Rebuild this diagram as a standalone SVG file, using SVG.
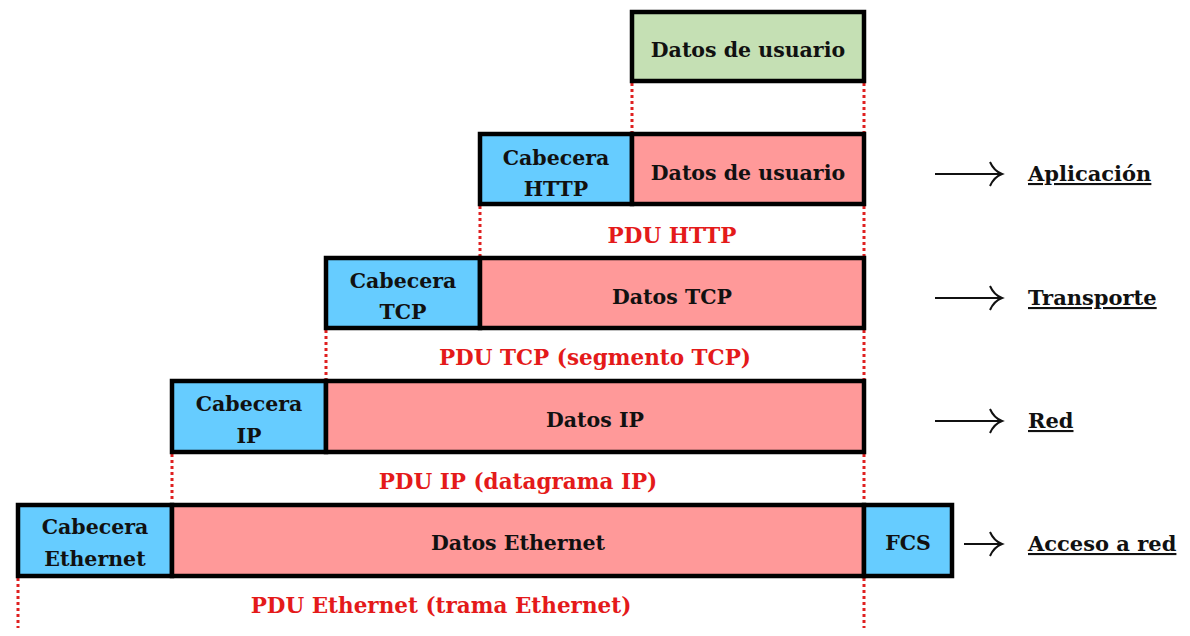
<svg xmlns="http://www.w3.org/2000/svg" width="1190" height="636" viewBox="0 0 1190 636">
<style>
.box{stroke:#000;stroke-width:4.5}
.g{fill:#C5E0B4}.b{fill:#66CCFF}.p{fill:#FF9999}
text{font-family:"DejaVu Serif","Liberation Serif",serif;font-weight:bold;font-size:20.5px;fill:#111;text-anchor:middle}
.pdu{fill:#E41A1A;font-size:21.5px}
.lay{text-anchor:start;text-decoration:underline;font-size:21px}
.dot{stroke:#E02020;stroke-width:3;stroke-dasharray:3 3;fill:none}
.arr{stroke:#111;stroke-width:2;fill:none}
</style>
<rect width="1190" height="636" fill="#fff"/>
<g id="connectors">
<path class="dot" d="M632 83V132M864 83V132M480 206V256M864 206V256M326 330V379M864 330V379M172 454V502M864 454V502M18 578V628M864 578V628"/>
<path class="arr" d="M935 174H1001M990 162Q994 171 1002 174Q994 177 990 186"/>
<path class="arr" d="M935 298H1001M990 286Q994 295 1002 298Q994 301 990 310"/>
<path class="arr" d="M935 421H1001M990 409Q994 418 1002 421Q994 424 990 433"/>
<path class="arr" d="M964 544H1001M990 532Q994 541 1002 544Q994 547 990 556"/>
</g>
<g id="user">
<rect class="box g" x="632" y="12" width="232" height="69"/>
<text x="748" y="57">Datos de usuario</text>
</g>
<g id="http">
<rect class="box b" x="480" y="134" width="152" height="70"/>
<rect class="box p" x="632" y="134" width="232" height="70"/>
<text x="556" y="165">Cabecera</text><text x="556" y="196">HTTP</text>
<text x="748" y="180">Datos de usuario</text>
</g>
<text class="pdu" x="672" y="243">PDU HTTP</text>
<g id="tcp">
<rect class="box b" x="326" y="258" width="154" height="70"/>
<rect class="box p" x="480" y="258" width="384" height="70"/>
<text x="403" y="288">Cabecera</text><text x="403" y="319">TCP</text>
<text x="672" y="304">Datos TCP</text>
</g>
<text class="pdu" x="595" y="365">PDU TCP (segmento TCP)</text>
<g id="ip">
<rect class="box b" x="172" y="381" width="154" height="71"/>
<rect class="box p" x="326" y="381" width="538" height="71"/>
<text x="249" y="411">Cabecera</text><text x="249" y="443">IP</text>
<text x="595" y="427">Datos IP</text>
</g>
<text class="pdu" x="518" y="489">PDU IP (datagrama IP)</text>
<g id="eth">
<rect class="box b" x="18" y="505" width="154" height="71"/>
<rect class="box p" x="172" y="505" width="692" height="71"/>
<rect class="box b" x="864" y="505" width="88" height="71"/>
<text x="95" y="534">Cabecera</text><text x="95" y="566">Ethernet</text>
<text x="518" y="550">Datos Ethernet</text>
<text x="908" y="550">FCS</text>
</g>
<text class="pdu" x="441" y="613">PDU Ethernet (trama Ethernet)</text>
<g id="layers">
<text class="lay" x="1028" y="181">Aplicación</text>
<text class="lay" x="1028" y="305">Transporte</text>
<text class="lay" x="1028" y="428">Red</text>
<text class="lay" x="1028" y="551">Acceso a red</text>
</g>
</svg>
